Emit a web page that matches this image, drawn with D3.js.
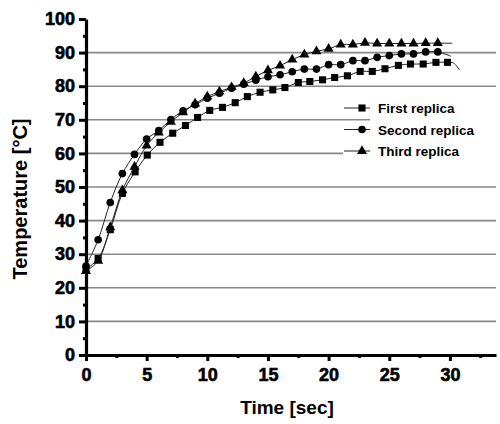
<!DOCTYPE html>
<html>
<head>
<meta charset="utf-8">
<script src="https://cdn.jsdelivr.net/npm/d3@7"></script>
<style>
  body { margin: 0; background: #fff; }
  svg { display: block; font-family: "Liberation Sans", Arial, sans-serif; }
</style>
</head>
<body>
<div id="chart"></div>
<script>
// datos
var seconds = [0,1,2,3,4,5,6,7,8,9,10,11,12,13,14,15,16,17,18,19,20,21,22,23,24,25,26,27,28,29];
var firstTimes = [0,1,2,3,4.05,5.05,6.1,7.15,8.2,9.2,10.2,11.25,12.3,13.3,14.35,15.4,16.4,17.5,18.45,19.5,20.5,21.55,22.6,23.6,24.65,25.75,26.75,27.8,28.85,29.8];
var firstReplica = [25.5,28.7,37.3,48.1,54.5,59.5,63.3,66,68.3,70.7,72.8,73.7,75.1,76.9,78.2,78.9,79.6,81.1,81.4,81.9,82.6,83.1,84.4,84.4,85.2,86.2,86.6,86.6,87.1,87.1];
var secondReplica = [26.5,34.3,45.4,54,59.7,64.3,66.8,70.1,72.7,74.5,76.4,77.9,79.4,80.6,81.8,82.8,83.4,84.3,85.1,85.1,86.4,86.4,87.6,87.6,88.6,89.1,89.6,89.6,90.2,90.2];
var thirdReplica = [25,28,38,49,56,62.3,66.2,69.4,72.2,74.8,76.9,78.4,79.7,80.9,82.9,84.7,86.1,87.9,89.4,90.4,91.1,92.4,92.4,92.9,92.7,92.7,92.7,92.7,92.8,92.8];
// final de la curva ajustada (sin marcadores)
var firstTail = [[30.3, 86.9], [30.8, 84.8]];
var secondTail = [[30.1, 88.9]];
var thirdTail = [[30.2, 92.8]];

var seriesNames = ['First replica', 'Second replica', 'Third replica'];
var yTicks = [0,10,20,30,40,50,60,70,80,90,100];
var yMinor = [5,15,25,35,45,55,65,75,85,95];
var xTicks = [0,5,10,15,20,25,30];
var xMinor = [2.5,7.5,12.5,17.5,22.5,27.5,32.5];
var gridValues = [10,20,30,40,50,60,70,80,90];

var w = 500, h = 424;

var svg = d3.select('#chart')
    .append('svg')
    .attr('width', w)
    .attr('height', h);

var x = d3.scaleLinear().domain([0, 33.8]).range([86, 496]);
var y = d3.scaleLinear().domain([0, 100]).range([355, 19]);

// lineas de rejilla
svg.append('g')
    .selectAll('line')
    .data(gridValues)
    .enter()
    .append('line')
    .attr('x1', x(0))
    .attr('x2', x(33.8))
    .attr('y1', d => y(d))
    .attr('y2', d => y(d))
    .attr('stroke', '#888')
    .attr('stroke-width', 1.6);

// fondo blanco de la leyenda
svg.append('rect').attr('x', 370).attr('y', 96).attr('width', 127).attr('height', 46).attr('fill', '#fff');
svg.append('rect').attr('x', 343).attr('y', 140).attr('width', 154).attr('height', 22).attr('fill', '#fff');

// series
var series = [
    { name: seriesNames[0], t: firstTimes, v: firstReplica, tail: firstTail, sym: d3.symbolSquare, size: 50 },
    { name: seriesNames[1], t: seconds, v: secondReplica, tail: secondTail, sym: d3.symbolCircle, size: 46 },
    { name: seriesNames[2], t: seconds, v: thirdReplica, tail: thirdTail, sym: d3.symbolTriangle, size: 44 }
];

var line = d3.line()
    .x(d => x(d[0]))
    .y(d => y(d[1]))
    .curve(d3.curveCatmullRom.alpha(0.5));

series.forEach(function(s) {
    var pts = s.t.map((t, i) => [t, s.v[i]]);
    svg.append('path')
        .attr('d', line(pts.concat(s.tail)))
        .attr('fill', 'none')
        .attr('stroke', '#222')
        .attr('stroke-width', 1);

    svg.append('g')
        .selectAll('path')
        .data(pts)
        .enter()
        .append('path')
        .attr('transform', d => 'translate(' + x(d[0]) + ',' + y(d[1]) + ')')
        .attr('d', d3.symbol().type(s.sym).size(s.size))
        .attr('fill', '#000');
});

// ejes
svg.append('g')
    .attr('transform', 'translate(' + x(0) + ',0)')
    .call(d3.axisLeft(y).tickValues(yTicks).tickSize(7).tickSizeOuter(0).tickPadding(4));
svg.append('g')
    .attr('transform', 'translate(' + x(0) + ',0)')
    .call(d3.axisLeft(y).tickValues(yMinor).tickSize(3).tickFormat(''))
    .select('.domain').remove();

svg.append('g')
    .attr('transform', 'translate(0,' + y(0) + ')')
    .call(d3.axisBottom(x).tickValues(xTicks).tickSize(6).tickSizeOuter(0).tickPadding(7));
svg.append('g')
    .attr('transform', 'translate(0,' + y(0) + ')')
    .call(d3.axisBottom(x).tickValues(xMinor).tickSize(3).tickFormat(''))
    .select('.domain').remove();

svg.selectAll('.domain').attr('stroke', '#000').attr('stroke-width', 3.2);
svg.selectAll('.tick line').attr('stroke', '#000').attr('stroke-width', 3);
svg.selectAll('.tick text')
    .attr('fill', '#000')
    .attr('stroke', '#000')
    .attr('stroke-width', 0.6)
    .style('font-family', '"Liberation Sans", Arial, sans-serif')
    .style('font-weight', 'bold')
    .style('font-size', '18px');

// titulos de ejes
svg.append('text')
    .attr('x', 287)
    .attr('y', 414)
    .attr('text-anchor', 'middle')
    .style('font-weight', 'bold')
    .style('font-size', '19px')
    .text('Time [sec]');

svg.append('text')
    .attr('transform', 'translate(27,199) rotate(-90)')
    .attr('text-anchor', 'middle')
    .style('font-weight', 'bold')
    .style('font-size', '20px')
    .text('Temperature [°C]');

// leyenda
var legend = svg.append('g');
series.forEach(function(s, i) {
    var ly = 108 + i * 21.5;
    legend.append('line')
        .attr('x1', 344).attr('x2', 370)
        .attr('y1', ly).attr('y2', ly)
        .attr('stroke', '#222').attr('stroke-width', 1);
    legend.append('path')
        .attr('transform', 'translate(362,' + ly + ')')
        .attr('d', d3.symbol().type(s.sym).size(s.size))
        .attr('fill', '#000');
    legend.append('text')
        .attr('x', 378)
        .attr('y', ly + 5)
        .style('font-weight', 'bold')
        .style('font-size', '13.5px')
        .text(s.name);
});
</script>
</body>
</html>
